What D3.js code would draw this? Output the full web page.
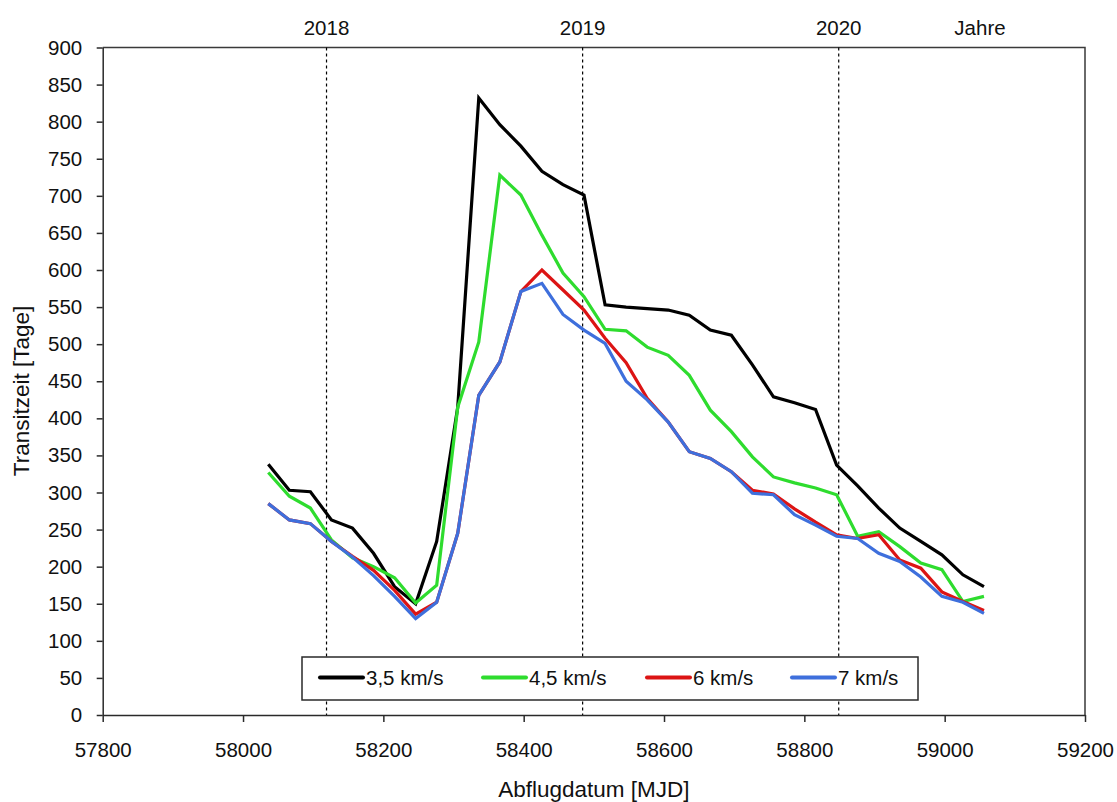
<!DOCTYPE html>
<html>
<head>
<meta charset="utf-8">
<script src="https://cdn.jsdelivr.net/npm/d3@7"></script>
<style>
  body { margin: 0; background: #fff; }
  svg { display: block; }
  text { font-family: "Liberation Sans", Arial, sans-serif; fill: #111; }
</style>
</head>
<body>
<svg id="chart" width="1117" height="802"></svg>
<script>
// Departure dates (MJD), one sample roughly every 30 days
const departureMJD = [58036, 58066, 58096, 58126, 58156, 58186, 58216, 58246, 58276, 58306,
                      58336, 58366, 58396, 58426, 58456, 58486, 58516, 58546, 58576, 58606,
                      58636, 58666, 58696, 58726, 58756, 58786, 58816, 58846, 58876, 58906,
                      58936, 58966, 58996, 59026, 59056];

// Transit time in days for each hyperbolic excess speed
const transit35 = [338, 303, 301, 263, 252, 218, 173, 150, 234, 415,
                   832, 796, 767, 733, 715, 701, 553, 550, 548, 546,
                   539, 519, 512, 472, 429, 421, 412, 337, 309, 279,
                   252, 234, 216, 189, 173];
const transit45 = [327, 295, 279, 236, 212, 200, 185, 151, 175, 415,
                   503, 728, 701, 647, 596, 564, 520, 518, 496, 485,
                   458, 411, 382, 348, 321, 313, 306, 297, 241, 247,
                   227, 205, 196, 153, 160];
const transit6  = [285, 263, 258, 234, 214, 195, 168, 136, 152, 245,
                   431, 476, 571, 600, 573, 546, 508, 475, 427, 395,
                   355, 346, 328, 303, 298, 278, 260, 243, 238, 243,
                   209, 198, 166, 153, 141];
const transit7  = [285, 263, 258, 234, 213, 188, 160, 130, 152, 245,
                   431, 476, 571, 582, 540, 519, 501, 450, 425, 395,
                   355, 346, 328, 299, 297, 270, 256, 241, 238, 218,
                   207, 186, 160, 152, 137];

const seriesNames  = ["3,5 km/s", "4,5 km/s", "6 km/s", "7 km/s"];
const seriesValues = [transit35, transit45, transit6, transit7];
const seriesColors = ["#000000", "#2edc2e", "#dc1414", "#3e6fdc"];

const xTicks = [57800, 58000, 58200, 58400, 58600, 58800, 59000, 59200];
const yTicks = [0, 50, 100, 150, 200, 250, 300, 350, 400, 450, 500, 550, 600, 650, 700, 750, 800, 850, 900];

// Start of each year in MJD
const yearMJD    = [58119, 58484, 58849];
const yearLabels = ["2018", "2019", "2020"];

const svg = d3.select("#chart");
const plotLeft = 102.7, plotRight = 1085, plotTop = 47.5, plotBottom = 715;

const x = d3.scaleLinear().domain([57800, 59200]).range([plotLeft, plotRight]);
const y = d3.scaleLinear().domain([0, 900]).range([plotBottom, plotTop]);

// Frame on the top and right
svg.append("path")
  .attr("d", `M${plotLeft},${plotTop}H${plotRight}V${plotBottom}`)
  .attr("fill", "none").attr("stroke", "#3a3a3a").attr("stroke-width", 1.5);

// Year markers
svg.append("g").selectAll("line").data(yearMJD).join("line")
  .attr("x1", d => x(d)).attr("x2", d => x(d))
  .attr("y1", plotTop).attr("y2", plotBottom)
  .attr("stroke", "#000").attr("stroke-width", 1.2).attr("stroke-dasharray", "3,3");

svg.append("g").selectAll("text").data(yearMJD).join("text")
  .attr("x", d => x(d)).attr("y", 35)
  .attr("text-anchor", "middle").style("font-size", "20.5px")
  .text((d, i) => yearLabels[i]);

svg.append("text").attr("x", 980).attr("y", 35)
  .attr("text-anchor", "middle").style("font-size", "20.5px").text("Jahre");

// Axes
const xAxis = svg.append("g").attr("transform", `translate(0,${plotBottom})`)
  .call(d3.axisBottom(x).tickValues(xTicks).tickFormat(d3.format("d")).tickSize(7).tickPadding(20).tickSizeOuter(0));
const yAxis = svg.append("g").attr("transform", `translate(${plotLeft},0)`)
  .call(d3.axisLeft(y).tickValues(yTicks).tickFormat(d3.format("d")).tickSize(6).tickPadding(14.5).tickSizeOuter(0));

[xAxis, yAxis].forEach(ax => {
  ax.select(".domain").attr("stroke", "#2a2a2a").attr("stroke-width", 1.5);
  ax.selectAll(".tick line").attr("stroke", "#2a2a2a").attr("stroke-width", 1.5);
  ax.selectAll(".tick text").attr("fill", "#111")
    .style("font-family", '"Liberation Sans", Arial, sans-serif').style("font-size", "20.5px");
});

// Axis titles
svg.append("text").attr("x", (plotLeft + plotRight) / 2).attr("y", 797)
  .attr("text-anchor", "middle").style("font-size", "22.5px").text("Abflugdatum [MJD]");
svg.append("text").attr("transform", "translate(29,391) rotate(-90)")
  .attr("text-anchor", "middle").style("font-size", "22.5px").text("Transitzeit [Tage]");

// Series lines
const line = d3.line().x((d, i) => x(departureMJD[i])).y(d => y(d));
svg.append("g").selectAll("path").data(seriesValues).join("path")
  .attr("d", d => line(d))
  .attr("fill", "none")
  .attr("stroke", (d, i) => seriesColors[i])
  .attr("stroke-width", 3.2)
  .attr("stroke-linejoin", "miter");

// Legend
const legend = svg.append("g");
legend.append("rect").attr("x", 302).attr("y", 657).attr("width", 616).attr("height", 43)
  .attr("fill", "#fff").attr("stroke", "#2a2a2a").attr("stroke-width", 1.5);
const legendX = [320, 483, 647, 792];
seriesNames.forEach((name, i) => {
  legend.append("line")
    .attr("x1", legendX[i]).attr("x2", legendX[i] + 43)
    .attr("y1", 677.5).attr("y2", 677.5)
    .attr("stroke", seriesColors[i]).attr("stroke-width", 4).attr("stroke-linecap", "round");
  legend.append("text")
    .attr("x", legendX[i] + 46).attr("y", 685)
    .style("font-size", "20.5px").text(name);
});
</script>
</body>
</html>
